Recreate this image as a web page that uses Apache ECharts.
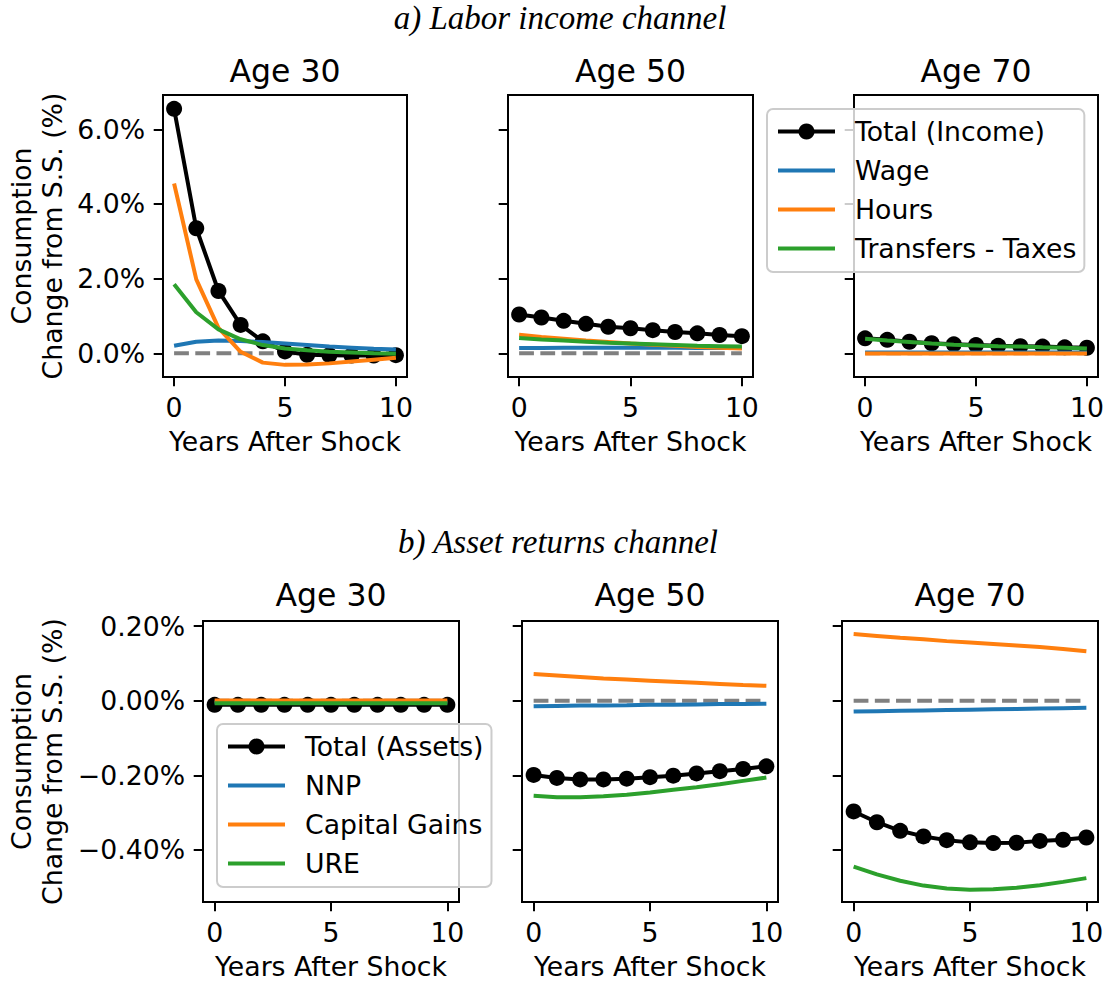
<!DOCTYPE html>
<html><head><meta charset="utf-8">
<script src="https://cdn.jsdelivr.net/npm/echarts@6/dist/echarts.min.js"></script>
<style>html,body{margin:0;padding:0;background:#fff}#c{width:1108px;height:984px}</style>
</head><body><div id="c"></div>
<script>
// ---------------- data ----------------
const years = [0, 1, 2, 3, 4, 5, 6, 7, 8, 9, 10];
const xTicks = [0, 5, 10];
const yTicksTop = [0, 2, 4, 6];
const yTicksBottom = [-0.4, -0.2, 0, 0.2];
const zeroLine = [0, 0, 0, 0, 0, 0, 0, 0, 0, 0, 0];

const sectionTitles = ['a) Labor income channel', 'b) Asset returns channel'];
const panelTitles = ['Age 30', 'Age 50', 'Age 70'];
const incomeNames = ['Total (Income)', 'Wage', 'Hours', 'Transfers - Taxes'];
const assetNames = ['Total (Assets)', 'NNP', 'Capital Gains', 'URE'];

// Labor income channel (% change)
const totalIncome30 = [6.55, 3.35, 1.67, 0.76, 0.32, 0.05, -0.04, -0.05, -0.06, -0.06, -0.05];
const wage30 = [0.20, 0.31, 0.34, 0.33, 0.30, 0.26, 0.22, 0.18, 0.15, 0.12, 0.10];
const hours30 = [4.55, 1.98, 0.68, 0.04, -0.25, -0.31, -0.30, -0.27, -0.22, -0.17, -0.12];
const transfers30 = [1.85, 1.10, 0.64, 0.375, 0.22, 0.13, 0.08, 0.04, 0.02, 0.0, -0.01];

const totalIncome50 = [1.04, 0.96, 0.87, 0.79, 0.71, 0.67, 0.62, 0.57, 0.535, 0.49, 0.46];
const wage50 = [0.14, 0.145, 0.15, 0.15, 0.15, 0.15, 0.15, 0.15, 0.145, 0.14, 0.14];
const hours50 = [0.50, 0.44, 0.39, 0.34, 0.30, 0.26, 0.23, 0.20, 0.17, 0.15, 0.13];
const transfers50 = [0.41, 0.37, 0.34, 0.31, 0.28, 0.26, 0.24, 0.22, 0.20, 0.19, 0.18];

const totalIncome70 = [0.40, 0.36, 0.31, 0.27, 0.24, 0.22, 0.20, 0.19, 0.18, 0.16, 0.15];
const wage70 = [0.02, 0.02, 0.02, 0.02, 0.02, 0.02, 0.02, 0.02, 0.02, 0.02, 0.02];
const hours70 = [-0.005, -0.005, -0.005, -0.005, -0.005, -0.005, -0.005, -0.005, -0.005, -0.005, -0.005];
const transfers70 = [0.39, 0.34, 0.30, 0.26, 0.23, 0.21, 0.19, 0.18, 0.16, 0.15, 0.13];

// Asset returns channel (% change)
const totalAssets30 = [-0.011, -0.011, -0.011, -0.011, -0.011, -0.011, -0.011, -0.011, -0.011, -0.011, -0.011];
const nnp30 = [-0.004, -0.004, -0.004, -0.004, -0.004, -0.004, -0.004, -0.004, -0.004, -0.004, -0.004];
const capGains30 = [0.001, 0.001, 0.001, 0.001, 0.001, 0.001, 0.001, 0.001, 0.001, 0.001, 0.001];
const ure30 = [-0.007, -0.007, -0.007, -0.007, -0.007, -0.007, -0.007, -0.007, -0.007, -0.007, -0.007];

const totalAssets50 = [-0.199, -0.207, -0.211, -0.211, -0.209, -0.205, -0.201, -0.195, -0.189, -0.183, -0.176];
const nnp50 = [-0.015, -0.014, -0.013, -0.013, -0.012, -0.011, -0.011, -0.010, -0.009, -0.009, -0.008];
const capGains50 = [0.072, 0.068, 0.064, 0.060, 0.057, 0.054, 0.051, 0.048, 0.045, 0.042, 0.040];
const ure50 = [-0.255, -0.259, -0.259, -0.256, -0.252, -0.246, -0.239, -0.232, -0.224, -0.215, -0.206];

const totalAssets70 = [-0.297, -0.326, -0.349, -0.364, -0.374, -0.380, -0.382, -0.381, -0.376, -0.373, -0.367];
const nnp70 = [-0.029, -0.028, -0.027, -0.026, -0.025, -0.024, -0.023, -0.022, -0.021, -0.020, -0.019];
const capGains70 = [0.179, 0.174, 0.169, 0.165, 0.160, 0.156, 0.152, 0.148, 0.144, 0.139, 0.133];
const ure70 = [-0.445, -0.466, -0.483, -0.496, -0.504, -0.507, -0.506, -0.502, -0.495, -0.486, -0.476];

// ---------------- build ----------------
const FONT = 'DejaVu Sans';
const FS = 26.7;
const COLORS = ['#000000', '#1f77b4', '#ff7f0e', '#2ca02c'];
const LW = 4;
const pairs = (ys) => years.map((x, i) => [x, ys[i]]);
const minus = (s) => s.replace('-', '\u2212');

const panels = [
  {grid: {left: 163, top: 95, width: 244, height: 282}, names: incomeNames, data: [totalIncome30, wage30, hours30, transfers30], row: 0, first: true},
  {grid: {left: 508, top: 95, width: 245, height: 282}, names: incomeNames, data: [totalIncome50, wage50, hours50, transfers50], row: 0},
  {grid: {left: 854, top: 95, width: 244, height: 282}, names: incomeNames, data: [totalIncome70, wage70, hours70, transfers70], row: 0},
  {grid: {left: 203, top: 621, width: 256, height: 281}, names: assetNames, data: [totalAssets30, nnp30, capGains30, ure30], row: 1, first: true},
  {grid: {left: 522, top: 621, width: 256, height: 281}, names: assetNames, data: [totalAssets50, nnp50, capGains50, ure50], row: 1},
  {grid: {left: 842, top: 621, width: 256, height: 281}, names: assetNames, data: [totalAssets70, nnp70, capGains70, ure70], row: 1}
];
const rowCfg = [
  {min: -0.635, max: 6.92, ticks: yTicksTop, fmt: (v) => minus(v.toFixed(1)) + '%', nameGap: 95},
  {min: -0.54, max: 0.214, ticks: yTicksBottom, fmt: (v) => minus(v.toFixed(2)) + '%', nameGap: 135}
];

const grid = [], xAxis = [], yAxis = [], series = [], graphic = [];
const txt = (text, x, y, size, extra) => Object.assign({
  type: 'text', x: x, y: y, silent: true,
  style: Object.assign({text: text, fontSize: size, fontFamily: FONT, fill: '#000',
    textAlign: 'center', textVerticalAlign: 'middle', align: 'center', verticalAlign: 'middle'}, extra || {})
});

panels.forEach((p, i) => {
  const rc = rowCfg[p.row];
  grid.push(Object.assign({show: true, borderColor: '#000', borderWidth: 2, backgroundColor: 'transparent', containLabel: false}, p.grid));
  xAxis.push({
    type: 'value', gridIndex: i, min: -0.5, max: 10.5,
    splitLine: {show: false},
    axisLine: {show: true, onZero: false, lineStyle: {color: '#000', width: 2}},
    axisTick: {show: true, length: 9.3, lineStyle: {color: '#000', width: 2}, customValues: xTicks},
    axisLabel: {show: true, customValues: xTicks, fontSize: FS, color: '#000', fontFamily: FONT, margin: 17},
    name: 'Years After Shock', nameLocation: 'middle', nameGap: 51,
    nameTextStyle: {fontSize: FS, color: '#000', fontFamily: FONT}
  });
  yAxis.push({
    type: 'value', gridIndex: i, min: rc.min, max: rc.max,
    splitLine: {show: false},
    axisLine: {show: true, onZero: false, lineStyle: {color: '#000', width: 2}},
    axisTick: {show: true, length: 9.3, lineStyle: {color: '#000', width: 2}, customValues: rc.ticks},
    axisLabel: {show: !!p.first, customValues: rc.ticks, fontSize: FS, color: '#000', fontFamily: FONT, margin: 18, formatter: rc.fmt},
    name: p.first ? 'Consumption\nChange from S.S. (%)' : '',
    nameLocation: 'middle', nameGap: rc.nameGap,
    nameTextStyle: {fontSize: FS, color: '#000', fontFamily: FONT, lineHeight: 31, align: 'center'}
  });
  series.push({
    type: 'line', xAxisIndex: i, yAxisIndex: i, data: pairs(zeroLine), symbol: 'none', silent: true,
    lineStyle: {color: '#808080', width: LW, type: [14.8, 6.4]}, z: 1
  });
  p.names.forEach((nm, k) => {
    const s = {
      type: 'line', name: nm, xAxisIndex: i, yAxisIndex: i, data: pairs(p.data[k]), silent: true,
      color: COLORS[k], lineStyle: {color: COLORS[k], width: LW}, z: 2 + k
    };
    if (k === 0) {
      s.symbol = 'circle'; s.symbolSize = 16; s.showSymbol = true; s.itemStyle = {color: '#000', borderWidth: 0};
    } else {
      s.symbol = 'none';
    }
    series.push(s);
  });
  const cx = p.grid.left + p.grid.width / 2;
  const cy = p.row === 0 ? 71 : 595;
  graphic.push(txt(panelTitles[i % 3], cx, cy, 31.5));
});

graphic.push(txt(sectionTitles[0], 560, 18, 33, {fontFamily: 'Liberation Serif', fontStyle: 'italic'}));
graphic.push(txt(sectionTitles[1], 558, 542, 33, {fontFamily: 'Liberation Serif', fontStyle: 'italic'}));

const lineIcon = 'path://M0,0H57V4H0Z';
const mkLegend = (names, left, top) => ({
  data: names.map((n, k) => k === 0
    ? {name: n, lineStyle: {width: LW, color: '#000'}}
    : {name: n, icon: lineIcon, itemStyle: {borderWidth: 0}}),
  orient: 'vertical', left: left, top: top, padding: [9, 8, 10, 9],
  itemWidth: 57, itemHeight: 20, itemGap: 12, selectedMode: false,
  lineStyle: {width: LW},
  textStyle: {fontSize: FS, color: '#000', fontFamily: FONT, padding: [0, 0, 0, 15]},
  backgroundColor: 'rgba(255,255,255,0.8)', borderColor: '#cccccc', borderWidth: 2, borderRadius: 6,
  z: 20
});

const chart = echarts.init(document.getElementById('c'), null, {renderer: 'svg'});
chart.setOption({
  animation: false,
  backgroundColor: '#ffffff',
  grid: grid, xAxis: xAxis, yAxis: yAxis, series: series,
  legend: [mkLegend(incomeNames, 767, 109), mkLegend(assetNames, 217, 724)],
  graphic: graphic
});
</script></body></html>
